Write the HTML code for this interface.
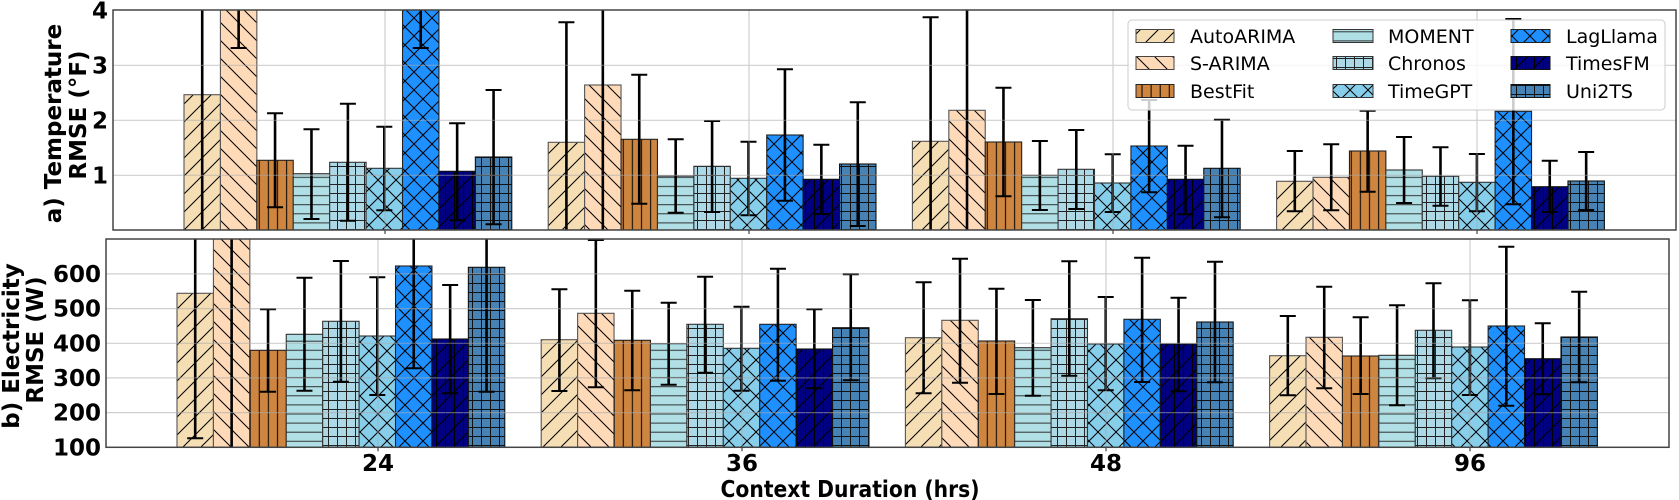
<!DOCTYPE html>
<html><head><meta charset="utf-8"><style>
html,body{margin:0;padding:0;background:#fff;}
svg{display:block;font-family:"DejaVu Sans","Liberation Sans",sans-serif;}
</style></head><body>
<svg id="s" width="1679" height="500" viewBox="0 0 1679 500" xmlns="http://www.w3.org/2000/svg">
<defs>
<pattern id="p0" patternUnits="userSpaceOnUse" width="18" height="18"><rect width="18" height="18" fill="#F5DEB3"/><path d="M0 18L18 0M-9 9L9 -9M9 27L27 9" stroke="#000" stroke-width="1"/></pattern>
<pattern id="p1" patternUnits="userSpaceOnUse" width="18" height="18"><rect width="18" height="18" fill="#FFDAB9"/><path d="M0 0L18 18M-9 9L9 27M9 -9L27 9" stroke="#000" stroke-width="1"/></pattern>
<pattern id="p2" patternUnits="userSpaceOnUse" width="9.1" height="9"><rect width="9.1" height="9" fill="#CD853F"/><path d="M4.5 0V9" stroke="#000" stroke-width="1"/></pattern>
<pattern id="p3" patternUnits="userSpaceOnUse" width="9" height="9.1"><rect width="9" height="9.1" fill="#B0E0E6"/><path d="M0 4.5H9" stroke="#333" stroke-width="1"/></pattern>
<pattern id="p4" patternUnits="userSpaceOnUse" width="9" height="9"><rect width="9" height="9" fill="#ADD8E6"/><path d="M4.5 0V9M0 4.5H9" stroke="#222" stroke-width="1"/></pattern>
<pattern id="p5" patternUnits="userSpaceOnUse" width="18" height="18"><rect width="18" height="18" fill="#87CEEB"/><path d="M0 18L18 0M-9 9L9 -9M9 27L27 9M0 0L18 18M-9 9L9 27M9 -9L27 9" stroke="#000" stroke-width="1"/></pattern>
<pattern id="p6" patternUnits="userSpaceOnUse" width="18" height="18"><rect width="18" height="18" fill="#1E90FF"/><path d="M0 18L18 0M-9 9L9 -9M9 27L27 9M0 0L18 18M-9 9L9 27M9 -9L27 9" stroke="#000" stroke-width="1"/></pattern>
<pattern id="p7" patternUnits="userSpaceOnUse" width="18" height="18"><rect width="18" height="18" fill="#000080"/><path d="M0 18L18 0M-9 9L9 -9M9 27L27 9M4.5 0V18M13.5 0V18" stroke="#000" stroke-width="1"/></pattern>
<pattern id="p8" patternUnits="userSpaceOnUse" width="9" height="9"><rect width="9" height="9" fill="#4682B4"/><path d="M4.5 0V9M0 4.5H9" stroke="#111" stroke-width="1"/></pattern>
<clipPath id="c1"><rect x="113" y="10" width="1563" height="220"/></clipPath>
<clipPath id="c2"><rect x="106" y="239" width="1563" height="208.3"/></clipPath>
</defs>
<g id="top" clip-path="url(#c1)"></g>
<g id="bot" clip-path="url(#c2)"></g>
<g id="grid" opacity="0.55" stroke="#a8a8a8" stroke-width="1.2"></g>
<!-- spines -->
<rect x="113" y="10" width="1563" height="220" fill="none" stroke="#444" stroke-width="1.5"/>
<rect x="106" y="239" width="1563" height="208.3" fill="none" stroke="#444" stroke-width="1.5"/>
<!-- legend -->
<g>
<rect x="1128" y="20" width="537" height="90" rx="4" fill="#fff" fill-opacity="0.8" stroke="#cccccc" stroke-width="1"/>
<rect x="1136" y="29.5" width="38" height="13" fill="url(#p0)" stroke="#444"/>
<rect x="1136" y="56.5" width="38" height="13" fill="url(#p1)" stroke="#444"/>
<rect x="1136" y="84.5" width="38" height="13" fill="url(#p2)" stroke="#222"/>
<rect x="1333" y="29.5" width="40" height="13" fill="url(#p3)" stroke="#333"/>
<rect x="1333" y="56.5" width="40" height="13" fill="url(#p4)" stroke="#333"/>
<rect x="1333" y="84.5" width="40" height="13" fill="url(#p5)" stroke="#333"/>
<rect x="1511" y="29.5" width="39" height="13" fill="url(#p6)" stroke="#222"/>
<rect x="1511" y="56.5" width="39" height="13" fill="url(#p7)" stroke="#111"/>
<rect x="1511" y="84.5" width="39" height="13" fill="url(#p8)" stroke="#111"/>
<g font-size="19" fill="#000">
<text x="1190" y="43">AutoARIMA</text>
<text x="1190" y="70">S-ARIMA</text>
<text x="1190" y="98">BestFit</text>
<text x="1388" y="43">MOMENT</text>
<text x="1388" y="70">Chronos</text>
<text x="1388" y="98">TimeGPT</text>
<text x="1566" y="43">LagLlama</text>
<text x="1566" y="70">TimesFM</text>
<text x="1566" y="98">Uni2TS</text>
</g>
</g>
<!-- tick labels -->
<g font-size="23" font-weight="bold" text-anchor="end" fill="#000">
<text x="108" y="18.5">4</text>
<text x="108" y="73.5">3</text>
<text x="108" y="128.5">2</text>
<text x="108" y="183.5">1</text>
<text x="101" y="281.9">600</text>
<text x="101" y="316.6">500</text>
<text x="101" y="351.3">400</text>
<text x="101" y="385.9">300</text>
<text x="101" y="420.6">200</text>
<text x="101" y="455.3">100</text>
</g>
<g font-size="23" font-weight="bold" text-anchor="middle" fill="#000">
<text x="378" y="471">24</text>
<text x="742" y="471">36</text>
<text x="1106" y="471">48</text>
<text x="1470" y="471">96</text>
<text x="850" y="497" textLength="259" lengthAdjust="spacingAndGlyphs">Context Duration (hrs)</text>
</g>
<g font-size="23" font-weight="bold" text-anchor="middle" fill="#000">
<text transform="translate(61,123.5) rotate(-90)">a) Temperature</text>
<text transform="translate(86,115) rotate(-90)">RMSE (°F)</text>
<text transform="translate(19,346) rotate(-90)">b) Electricity</text>
<text transform="translate(43,340) rotate(-90)">RMSE (W)</text>
</g>
</svg>
<script>
var NS="http://www.w3.org/2000/svg";
function el(p,t,a){var e=document.createElementNS(NS,t);for(var k in a)e.setAttribute(k,a[k]);p.appendChild(e);return e;}
var edges=["#555","#555","#222","#333","#333","#333","#222","#111","#111"];
var W=36.42;
var topD=[
[[94.7,0,260],[-20,0,48],[160.3,113.3,207.3],[173.7,129.3,219],[162.3,103.7,220.7],[168.3,126.7,210.3],[-20,0,48],[171.3,123.3,220.3],[157,90,224.3]],
[[142.3,22.3,260],[85,0,260],[139.3,74.7,203.7],[176,139.3,212.7],[166.3,121,212],[178.3,141.7,215.3],[135,69.3,200.7],[179.3,144.7,214],[164,102.3,226]],
[[141.3,17.3,260],[110.3,0,260],[142,87.7,196.3],[175.3,141,210],[169.3,130,209],[183,154.3,212],[146,100,192.3],[179.3,145.7,214.3],[168.3,119.7,217.3]],
[[181.3,151,211.3],[177.3,144.3,210.3],[151,110.7,191.7],[170,137,203],[176.3,147.3,205.7],[182.3,154,211.3],[111.3,19,204.3],[186.7,160.7,212],[181,152,210]]];
var botD=[
[[293.3,200,438.3],[200,200,460],[350.3,309.3,391.7],[334.3,277.7,390.7],[321.3,261,381.7],[336,277.3,395],[266,200,368.3],[339,285,393.3],[267.3,200,391.7]],
[[339.7,289.3,391],[313.3,240,387.3],[340.3,290.7,390.3],[343.7,302.7,384.7],[324.3,276.7,372.7],[348.3,306.7,390.7],[324.3,268.7,380.7],[349,309.3,388.3],[327.7,274.3,380.3]],
[[337.7,282.3,393.3],[320.3,258.7,382.7],[341,288.7,394],[347.7,300,395.7],[318.7,261.3,375.7],[344,297,390.3],[319.3,257.7,382],[344,297.7,391.3],[322,261.7,382.3]],
[[355.7,316,395.3],[337.3,286.7,388.3],[356,317.3,394],[355.3,305.3,405.3],[330.3,283.3,378.3],[347,300.3,395],[326,246.7,405.7],[358.7,323.3,394.3],[337,291.7,382.3]]];
function draw(g,D,x0,base){
 for(var gi=0;gi<4;gi++){
  var gs=x0+gi*364.2;
  for(var b=0;b<9;b++){
   var d=D[gi][b],x=gs+b*W;
   el(g,"rect",{x:x,y:d[0],width:W,height:base-d[0],fill:"url(#p"+b+")",stroke:edges[b],"stroke-width":1.1});
  }
  for(var b=0;b<9;b++){
   var d=D[gi][b],cx=gs+b*W+W/2;
   el(g,"line",{x1:cx,x2:cx,y1:d[1],y2:d[2],stroke:"#000","stroke-width":2.6});
   el(g,"line",{x1:cx-8,x2:cx+8,y1:d[1],y2:d[1],stroke:"#000","stroke-width":2});
   el(g,"line",{x1:cx-8,x2:cx+8,y1:d[2],y2:d[2],stroke:"#000","stroke-width":2});
  }
 }
}
draw(document.getElementById("top"),topD,184,230);
draw(document.getElementById("bot"),botD,177,447.3);
var gr=document.getElementById("grid");
[65.3,120.3,175.3].forEach(function(y){el(gr,"line",{x1:113,x2:1676,y1:y,y2:y});});
[273.9,308.6,343.3,377.9,412.6].forEach(function(y){el(gr,"line",{x1:106,x2:1669,y1:y,y2:y});});
[385,749,1113,1477].forEach(function(x){el(gr,"line",{x1:x,x2:x,y1:10,y2:230});el(gr,"line",{x1:x-7,x2:x-7,y1:239,y2:447.3});});
var s=document.getElementById("s");
[385,749,1113,1477].forEach(function(x){el(s,"line",{x1:x,x2:x,y1:230,y2:234,stroke:"#444","stroke-width":1.2});el(s,"line",{x1:x-7,x2:x-7,y1:447.3,y2:451.3,stroke:"#444","stroke-width":1.2});});
// move legend to top
var kids=s.children;
</script>
</body></html>
